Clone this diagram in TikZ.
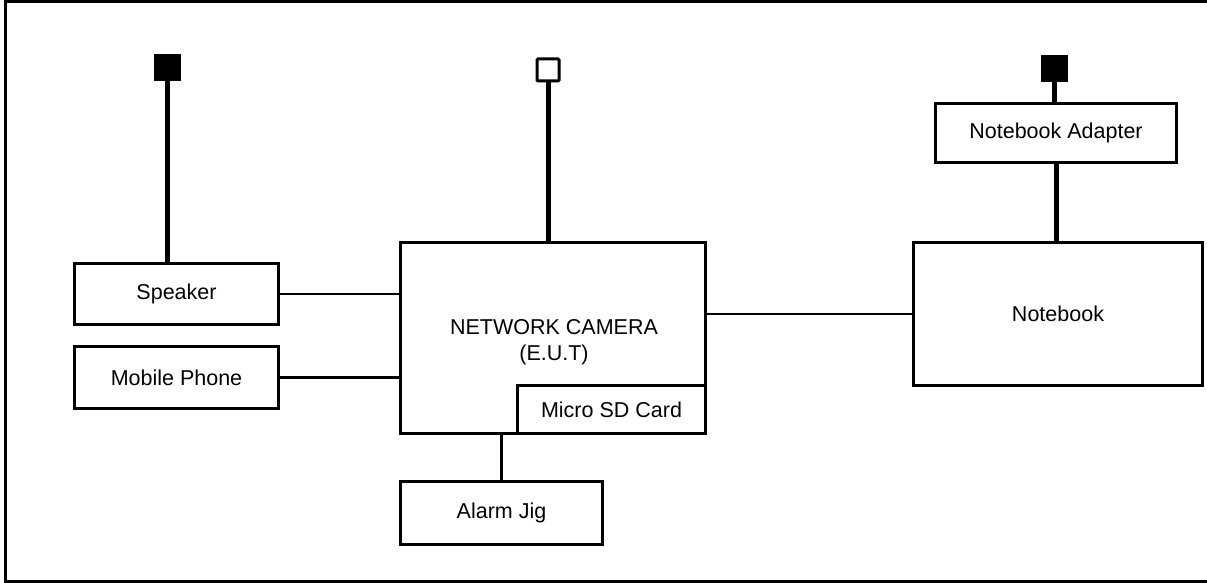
\documentclass[tikz,border=0pt]{standalone}
\usepackage{fontspec}
\setmainfont{Liberation Sans}
\begin{document}
\begin{tikzpicture}[x=1pt,y=-1pt,
  box/.style={draw,line width=3pt,rectangle,anchor=north west,inner sep=0pt,font=\fontsize{21.5}{26}\selectfont},
  thinline/.style={line width=2.6pt},
  thickline/.style={line width=5pt},
  plugfill/.style={draw,fill=black,line width=1pt,rectangle,anchor=north west,inner sep=0pt},
  plugopen/.style={draw,line width=3pt,rounded corners=1pt,rectangle,anchor=north west,inner sep=0pt}]
\useasboundingbox (0,0) rectangle (1207,583);
\draw[line width=3pt] (5.5,1.5) rectangle (1215,581.5);
% boxes
\node[box,minimum width=204pt,minimum height=61pt] (spk) at (73,262) {Speaker};
\node[box,minimum width=204pt,minimum height=62pt] (mob) at (73,345) {Mobile Phone};
\node[box,minimum width=305pt,minimum height=191pt,
  label={[font=\fontsize{21.5}{26}\selectfont,align=center,yshift=-4pt,xshift=1pt]center:NETWORK CAMERA\\(E.U.T)}] (cam) at (399,241) {};
\node[box,minimum width=188pt,minimum height=48pt] (sd) at (516,384) {Micro SD Card};
\node[box,minimum width=202pt,minimum height=63pt] (alarm) at (399,480) {Alarm Jig};
\node[box,minimum width=289pt,minimum height=143pt] (nb) at (912,241) {Notebook};
\node[box,minimum width=241pt,minimum height=59pt] (adp) at (934,102) {Notebook Adapter};
% plugs
\node[plugfill,minimum width=26pt,minimum height=26pt] (plugL) at (154,54) {};
\node[plugopen,minimum width=22pt,minimum height=22pt] (plugM) at (535.5,57.5) {};
\node[plugfill,minimum width=26pt,minimum height=26pt] (plugR) at (1041,55) {};
% connectors
\draw[thickline] (plugL.south) -- (plugL.south |- spk.north);
\draw[thickline] (plugM.south) -- (plugM.south |- cam.north);
\draw[thickline] (plugR.south) -- (plugR.south |- adp.north);
\draw[thickline] (adp.south) -- (adp.south |- nb.north);
\draw[thinline] (spk.east) -- (spk.east -| cam.west);
\draw[thinline] (mob.east) -- (mob.east -| cam.west);
\draw[thinline] (nb.west) -- (nb.west -| cam.east);
\draw[thinline] (alarm.north) -- (alarm.north |- cam.south);
\end{tikzpicture}
\end{document}
